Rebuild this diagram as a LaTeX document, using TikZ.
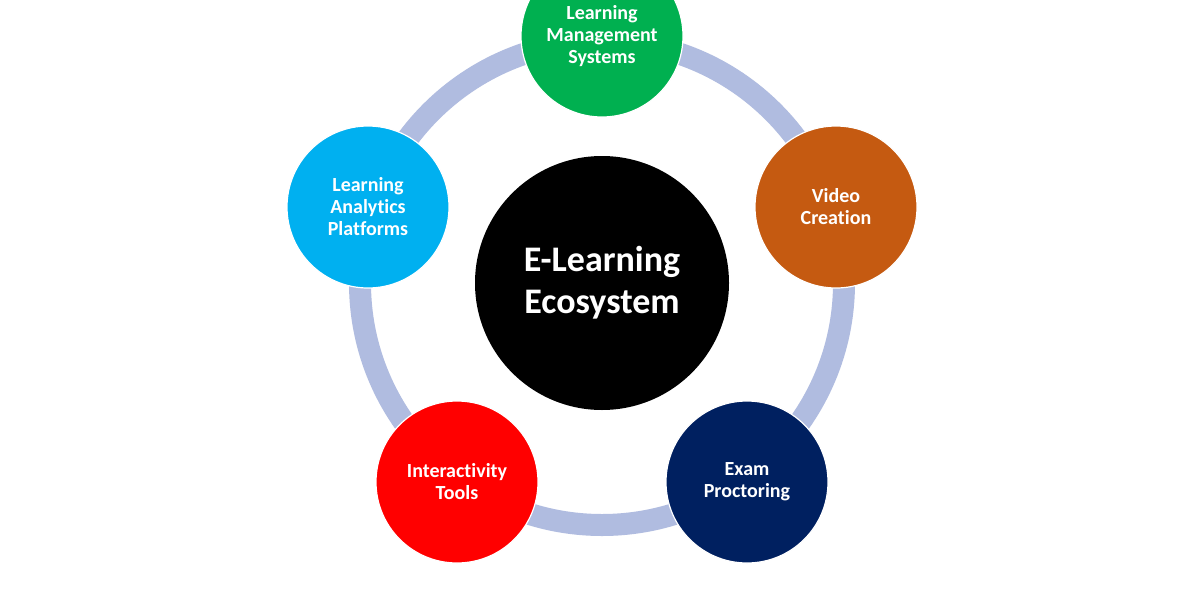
\documentclass[tikz,border=0pt]{standalone}
\usepackage{fontspec}
\setmainfont{Carlito}[Ligatures=NoCommon]
\definecolor{ringc}{HTML}{B0BCE0}
\definecolor{lmsc}{HTML}{00B050}
\definecolor{vidc}{HTML}{C55A11}
\definecolor{examc}{HTML}{002060}
\definecolor{intc}{HTML}{FF0000}
\definecolor{anac}{HTML}{00B0F0}
\tikzset{
  outer/.style={circle, minimum size=162pt, inner sep=0pt, draw=white, line width=1.2pt,
    text=white, align=center, font=\fontsize{20}{22}\selectfont\bfseries},
  hub/.style={circle, minimum size=254pt, inner sep=0pt, fill=black,
    text=white, align=center, font=\fontsize{36}{42}\selectfont\bfseries},
  ringline/.style={draw=ringc, line width=22pt}
}
\begin{document}
\begin{tikzpicture}[x=1pt,y=-1pt]
\useasboundingbox (0,0) rectangle (1200,600);
\fill[white] (0,0) rectangle (1200,600);
\coordinate (o) at (602,283);
\draw[ringline] (o) circle (242);
\node[hub] (hubn) at (o) {E-Learning\\Ecosystem};
\node[outer, fill=lmsc] (lms) at (602,36) {Learning\\Management\\Systems};
\node[outer, fill=vidc] (vid) at (836,207) {Video\\Creation};
\node[outer, fill=examc] (exam) at (747,482) {Exam\\Proctoring};
\node[outer, fill=intc] (int) at (457,482) {Interactivity\\Tools};
\node[outer, fill=anac] (ana) at (368,207) {Learning\\Analytics\\Platforms};
\end{tikzpicture}
\end{document}
